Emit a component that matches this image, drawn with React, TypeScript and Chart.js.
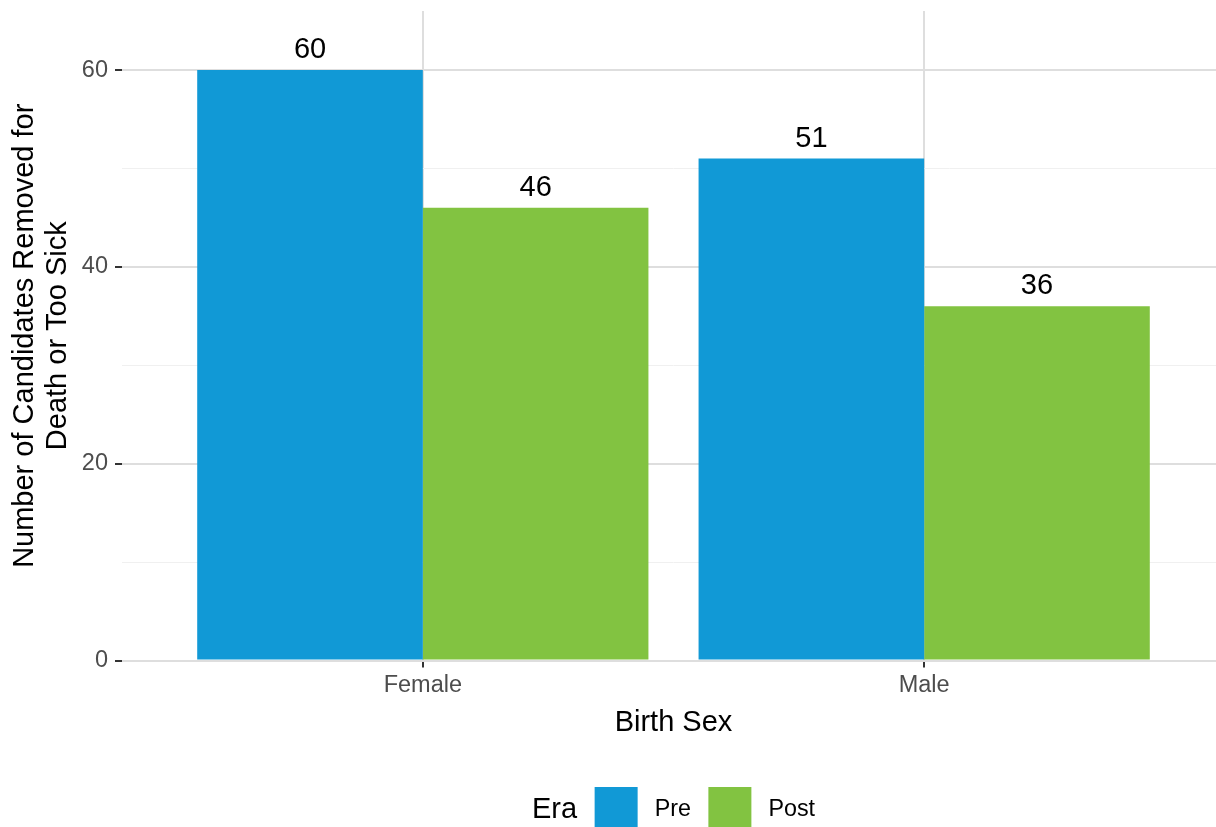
import React, { useEffect, useRef } from "react";
import { Chart, registerables } from "chart.js";

Chart.register(...registerables);

const categories = ["Female", "Male"];
const seriesNames = ["Pre", "Post"];
const preValues = [60, 51];
const postValues = [46, 36];
const seriesColors = ["#1199D6", "#82C341"];
const yTickValues = [0, 20, 40, 60];
const xAxisTitle = "Birth Sex";
const yAxisTitle = ["Number of Candidates Removed for", "Death or Too Sick"];
const legendTitle = "Era";

const FONT = "'Liberation Sans', Arial, Helvetica, sans-serif";

const barLabelPlugin = {
  id: "barLabels",
  afterDatasetsDraw(chart: any) {
    const ctx = chart.ctx;
    ctx.save();
    ctx.font = `29px ${FONT}`;
    ctx.fillStyle = "#000000";
    ctx.textAlign = "center";
    ctx.textBaseline = "alphabetic";
    chart.data.datasets.forEach((ds: any, i: number) => {
      const meta = chart.getDatasetMeta(i);
      meta.data.forEach((bar: any, j: number) => {
        const v = ds.data[j].y;
        ctx.fillText(String(v), bar.x, bar.y - 12);
      });
    });
    ctx.restore();
  },
};

const legendPlugin = {
  id: "eraLegend",
  afterDraw(chart: any) {
    const ctx = chart.ctx;
    const ca = chart.chartArea;
    const cx = (ca.left + ca.right) / 2;
    const midY = 809;
    const box = 43;
    const gapBefore = 17.5;
    const gapAfter = 17;
    ctx.save();
    ctx.font = `29px ${FONT}`;
    const tW = ctx.measureText(legendTitle).width;
    ctx.font = `23.3px ${FONT}`;
    const names = chart.data.datasets.map((d: any) => d.label as string);
    const lws = names.map((n: string) => ctx.measureText(n).width);
    let total = tW;
    lws.forEach((w: number) => (total += gapBefore + box + gapAfter + w));
    let x = cx - total / 2;
    ctx.textBaseline = "middle";
    ctx.textAlign = "left";
    ctx.fillStyle = "#000000";
    ctx.font = `29px ${FONT}`;
    ctx.fillText(legendTitle, x, midY + 1);
    x += tW;
    ctx.font = `23.3px ${FONT}`;
    chart.data.datasets.forEach((d: any, i: number) => {
      x += gapBefore;
      ctx.fillStyle = d.backgroundColor;
      ctx.fillRect(x, midY - 22, box, box);
      x += box + gapAfter;
      ctx.fillStyle = "#000000";
      ctx.fillText(names[i], x, midY + 1);
      x += lws[i];
    });
    ctx.restore();
  },
};

const isMajor = (ctx: any) => ctx && ctx.tick && yTickValues.includes(ctx.tick.value);

export default function App() {
  const canvasRef = useRef<HTMLCanvasElement | null>(null);

  useEffect(() => {
    if (!canvasRef.current) return;
    const chart = new Chart(canvasRef.current, {
      type: "bar",
      data: {
        datasets: [preValues, postValues].map((vals, i) => ({
          label: seriesNames[i],
          data: vals.map((v, j) => ({ x: j + 1, y: v })),
          backgroundColor: seriesColors[i],
          borderWidth: 0,
          categoryPercentage: 0.9,
          barPercentage: 1,
        })),
      },
      options: {
        responsive: false,
        animation: false,
        layout: { padding: { top: 11, left: 0, right: 0, bottom: 0 } },
        plugins: {
          legend: { display: false },
          tooltip: { enabled: false },
        },
        scales: {
          x: {
            type: "linear",
            offset: false,
            min: 0.4,
            max: categories.length + 0.6,
            afterBuildTicks: (s: any) => {
              s.ticks = categories.map((_, i) => ({ value: i + 1 }));
            },
            afterFit: (s: any) => {
              s.height = 166.5;
              s.paddingLeft = 0;
              s.paddingRight = 0;
            },
            ticks: {
              callback: (v: any) => categories[Math.round(Number(v)) - 1] ?? "",
              font: { family: FONT, size: 23.5, lineHeight: 1.2 },
              color: "#4D4D4D",
              padding: 4,
              maxRotation: 0,
              autoSkip: false,
            },
            grid: {
              offset: false,
              color: "#DEDEDE",
              lineWidth: 2,
              tickColor: "#333333",
              tickLength: 7,
              tickWidth: 2,
            },
            border: { display: false },
            title: {
              display: true,
              text: xAxisTitle,
              color: "#000000",
              font: { family: FONT, size: 29, lineHeight: 33 / 29 },
              padding: { top: 0, bottom: 87.5 },
            },
          },
          y: {
            type: "linear",
            min: 0,
            max: 66,
            afterFit: (s: any) => {
              s.width = 122;
              s.paddingTop = 0;
              s.paddingBottom = 0;
            },
            ticks: {
              stepSize: 10,
              includeBounds: false,
              autoSkip: false,
              callback: (v: any) => (yTickValues.includes(Number(v)) ? String(v) : ""),
              font: { family: FONT, size: 23.5, lineHeight: 1.2 },
              color: "#4D4D4D",
              padding: 7,
            },
            grid: {
              color: (c: any) => (isMajor(c) ? "#DEDEDE" : "#F0F0F0"),
              lineWidth: (c: any) => (isMajor(c) ? 2 : 1),
              tickColor: (c: any) => (isMajor(c) ? "#333333" : "rgba(0,0,0,0)"),
              tickLength: 7,
              tickWidth: 2,
            },
            border: { display: false },
            title: {
              display: true,
              text: yAxisTitle,
              color: "#000000",
              font: { family: FONT, size: 29, lineHeight: 33 / 29 },
              padding: { top: 8.5, bottom: 0 },
            },
          },
        },
      } as any,
      plugins: [barLabelPlugin, legendPlugin],
    });
    return () => chart.destroy();
  }, []);

  return (
    <div
      style={{
        position: "absolute",
        left: 0,
        top: 0,
        width: 1216,
        height: 827,
        overflow: "hidden",
        background: "#FFFFFF",
      }}
    >
      <canvas ref={canvasRef} width={1225} height={827} style={{ display: "block" }} />
    </div>
  );
}
